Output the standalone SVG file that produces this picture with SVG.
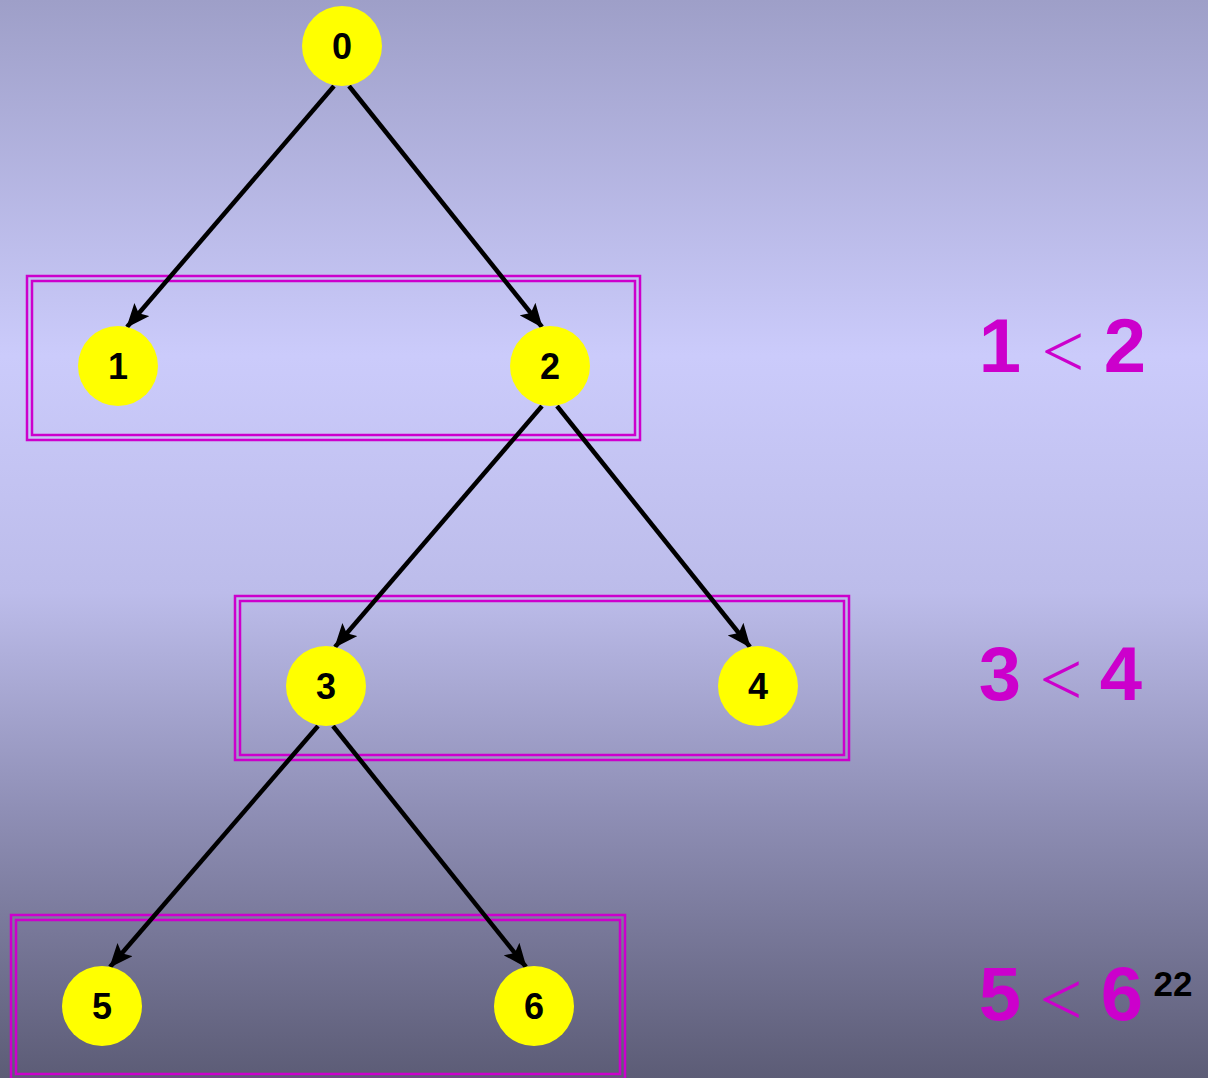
<svg xmlns="http://www.w3.org/2000/svg" width="1208" height="1078" viewBox="0 0 1208 1078">
<defs>
<linearGradient id="bg" x1="0" y1="0" x2="0" y2="1">
<stop offset="0" stop-color="#9e9fc8"/>
<stop offset="0.33" stop-color="#cbcbfb"/>
<stop offset="0.55" stop-color="#bcbcea"/>
<stop offset="0.75" stop-color="#8f8fb6"/>
<stop offset="1" stop-color="#5c5c76"/>
</linearGradient>
<marker id="ah" viewBox="0 0 24 20" refX="23" refY="10" markerWidth="24" markerHeight="20" orient="auto" markerUnits="userSpaceOnUse">
<path d="M0,0 L24,10 L0,20 L5,10 Z" fill="#000"/>
</marker>
<style>
.node circle{fill:#ffff00}
.node text{font-family:"Liberation Sans",Arial,sans-serif;font-weight:bold;font-size:36px;fill:#000;text-anchor:middle}
.edges line{stroke:#000;stroke-width:4.5;marker-end:url(#ah)}
.box rect{fill:none;stroke:#cc00cc;stroke-width:2.5}
.big{font-family:"Liberation Sans",Arial,sans-serif;font-weight:bold;font-size:76px;fill:#cc00cc;text-anchor:middle}
.lt{font-family:"Liberation Serif","Times New Roman",serif;font-size:76px;fill:#cc00cc;text-anchor:middle}
</style>
</defs>
<rect width="1208" height="1078" fill="url(#bg)"/>
<g class="box" id="box1"><rect x="27" y="276" width="613" height="164"/><rect x="32" y="281" width="603" height="154"/></g>
<g class="box" id="box2"><rect x="235" y="596" width="614" height="164"/><rect x="240" y="601" width="604" height="154"/></g>
<g class="box" id="box3"><rect x="11" y="915" width="614" height="164"/><rect x="16" y="920" width="604" height="154"/></g>
<g class="edges" id="connectors">
<line x1="334" y1="86" x2="127" y2="327"/>
<line x1="349" y1="86" x2="542" y2="327"/>
<line x1="542" y1="406" x2="335" y2="647"/>
<line x1="557" y1="406" x2="750" y2="647"/>
<line x1="318" y1="726" x2="110" y2="967"/>
<line x1="333" y1="726" x2="526" y2="967"/>
</g>
<g class="node" id="n0"><circle cx="342" cy="46" r="40"/><text x="342" y="59">0</text></g>
<g class="node" id="n1"><circle cx="118" cy="366" r="40"/><text x="118" y="379">1</text></g>
<g class="node" id="n2"><circle cx="550" cy="366" r="40"/><text x="550" y="379">2</text></g>
<g class="node" id="n3"><circle cx="326" cy="686" r="40"/><text x="326" y="699">3</text></g>
<g class="node" id="n4"><circle cx="758" cy="686" r="40"/><text x="758" y="699">4</text></g>
<g class="node" id="n5"><circle cx="102" cy="1006" r="40"/><text x="102" y="1019">5</text></g>
<g class="node" id="n6"><circle cx="534" cy="1006" r="40"/><text x="534" y="1019">6</text></g>
<g id="labels">
<text class="big" x="1000" y="372">1</text><text class="lt" x="1063" y="377">&lt;</text><text class="big" x="1125" y="372">2</text>
<text class="big" x="1000" y="700">3</text><text class="lt" x="1061" y="705">&lt;</text><text class="big" x="1121" y="700">4</text>
<text class="big" x="1000" y="1020">5</text><text class="lt" x="1061" y="1025">&lt;</text><text class="big" x="1122" y="1020">6</text>
<text x="1173" y="996" font-family="Liberation Sans,Arial,sans-serif" font-weight="bold" font-size="35" text-anchor="middle" fill="#000">22</text>
</g>
</svg>
